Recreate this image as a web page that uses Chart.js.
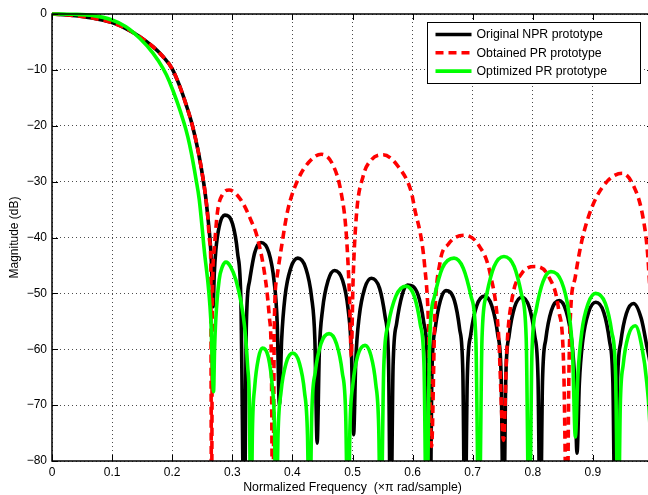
<!DOCTYPE html>
<html><head><meta charset="utf-8">
<script src="https://cdn.jsdelivr.net/npm/chart.js@4.4.0/dist/chart.umd.min.js"></script>
<style>
html,body{margin:0;padding:0;background:#fff;overflow:hidden;width:648px;height:495px;}
#wrap{width:653px;height:495px;}
</style></head><body>
<div id="wrap"><canvas id="c" width="653" height="495"></canvas></div>
<script>
const seriesNames = ['Original NPR prototype', 'Obtained PR prototype', 'Optimized PR prototype'];
const xTickValues = [0, 0.1, 0.2, 0.3, 0.4, 0.5, 0.6, 0.7, 0.8, 0.9, 1];
const xTickLabels = ['0', '0.1', '0.2', '0.3', '0.4', '0.5', '0.6', '0.7', '0.8', '0.9', '1'];
const yTickValues = [-80, -70, -60, -50, -40, -30, -20, -10, 0];
const yTickLabels = ['\u221280', '\u221270', '\u221260', '\u221250', '\u221240', '\u221230', '\u221220', '\u221210', '0'];
const xTitle = 'Normalized Frequency  (\u00d7\u03c0 rad/sample)';
const yTitle = 'Magnitude (dB)';

const blackFreq = [0,0.034,0.067,0.1,0.123,0.146,0.168,0.1845,0.2,0.2114,0.2237,0.2337,0.2437,0.2515,0.2555,0.2588,0.2643,0.2665,0.2681,0.2700,0.2726,0.2781,0.2876,0.3005,0.3088,0.3144,0.3199,
  0.3234,0.3287,0.3374,0.3477,0.3608,0.3695,0.3748,0.3783,
  0.3821,0.3877,0.3972,0.4090,0.4223,0.4318,0.4374,0.4412,
  0.4448,0.4503,0.4594,0.4701,0.4836,0.4927,0.4982,0.5018,
  0.5055,0.5111,0.5203,0.5314,0.5451,0.5543,0.5599,0.5636,
  0.5675,0.5734,0.5826,0.5915,0.6092,0.6189,0.6248,0.6287,
  0.6322,0.6375,0.6462,0.6555,0.6696,0.6783,0.6836,0.6871,
  0.6910,0.6967,0.7064,0.7195,0.7320,0.7417,0.7474,0.7513,
  0.7550,0.7605,0.7696,0.7818,0.7941,0.8032,0.8087,0.8124,
  0.8161,0.8216,0.8308,0.8440,0.8552,0.8644,0.8699,0.8736,
  0.8774,0.8831,0.8927,0.9048,0.9181,0.9276,0.9333,0.9371,
  0.9408,0.9464,0.9557,0.9676,0.9805,0.9898,0.9955,1.0];
const blackDb = [0,-0.24,-0.7,-1.55,-2.6,-4.05,-5.85,-7.6,-9.8,-12.6,-16.4,-20,-24.8,-29.6,-32.6,-35.8,-42.5,-48,-52.4,-46.5,-42.3,-38.1,-36.0,-37.6,-42.8,-51.8,-95,
  -55.5,-47.8,-42.7,-40.9,-42.7,-47.8,-55.5,-70,
  -58.3,-50.6,-45.5,-43.7,-45.5,-50.6,-58.3,-76.8,
  -60.5,-52.8,-47.7,-45.9,-47.7,-52.8,-60.5,-75.3,
  -61.9,-54.2,-49.1,-47.3,-49.1,-54.2,-61.9,-95,
  -63.1,-55.4,-50.3,-48.5,-50.3,-55.4,-63.1,-95,
  -64.1,-56.4,-51.3,-49.5,-51.3,-56.4,-64.1,-95,
  -65.1,-57.4,-52.3,-50.5,-52.3,-57.4,-65.1,-95,
  -65.3,-57.6,-52.5,-50.7,-52.5,-57.6,-65.3,-95,
  -65.9,-58.2,-53.1,-51.3,-53.1,-58.2,-65.9,-78.6,
  -66.2,-58.5,-53.4,-51.6,-53.4,-58.5,-66.2,-95,
  -66.4,-58.7,-53.6,-51.8,-54.5,-59.5,-63,-70];

const redFreq = [0,0.034,0.067,0.1,0.123,0.146,0.168,0.1845,0.2,0.2114,0.2237,0.2337,0.2437,0.2515,0.2555,0.2588,0.2625,0.2643,0.2654,
  0.2668,0.2698,0.2755,0.2838,0.2948,0.3144,0.3310,0.3422,0.3560,0.3616,0.3650,0.3673,
  0.3700,0.3745,0.3811,0.3923,0.4090,0.4284,0.4479,0.4674,0.4813,0.4896,0.4952,0.4980,
  0.5008,0.5063,0.5175,0.5314,0.5509,0.5760,0.5982,0.6037,0.6149,0.6200,0.6260,0.6316,
  0.6370,0.6454,0.6594,0.6871,0.7095,0.7289,0.7429,0.7513,
  0.7568,0.7651,0.7818,0.8040,0.8264,0.8431,0.8514,0.8569,
  0.8600,0.8625,0.8708,0.8820,0.8987,0.9209,0.9488,0.9683,0.9821,0.9905,0.9950,1.0];
const redDb = [0,-0.24,-0.7,-1.55,-2.6,-4.05,-5.85,-7.6,-9.8,-12.6,-16.4,-20,-24.8,-29.6,-32.6,-35.8,-40.8,-45,-95,
  -52,-42.2,-35.3,-32.3,-31.5,-33.3,-36.9,-40.2,-48.2,-54.2,-62,-95,
  -55,-47,-42.2,-35.1,-29.7,-26.4,-25.1,-27.0,-32.1,-39.3,-51.2,-61.3,
  -48.3,-36.3,-29.1,-26.1,-25.2,-27.3,-32,-35,-40.5,-45,-54.2,-77.4,
  -54.2,-44.6,-41.2,-39.6,-41.3,-46.4,-57.1,-76.3,
  -60,-51.2,-46.4,-45.2,-47.0,-53.0,-63.1,-95,
  -65,-54.2,-47.0,-40.4,-34.5,-30.3,-28.5,-30.9,-35.7,-42.2,-49.4,-58];

const greenFreq = [0,0.034,0.067,0.1,0.123,0.146,0.168,0.1845,0.195,0.2197,0.2260,0.2320,0.2395,0.2450,0.2531,0.2643,0.2688,
  0.2705,0.2726,0.2781,0.2835,0.2895,0.2970,0.3060,0.3144,0.3205,0.3255,0.3285,0.3310,
  0.3335,0.3373,0.3435,0.3500,0.3603,0.3665,0.3703,0.3728,
  0.3761,0.3811,0.3895,0.4006,0.4117,0.4201,0.4251,0.4284,
  0.4322,0.4380,0.4476,0.4610,0.4733,0.4829,0.4887,0.4925,
  0.4958,0.5007,0.5088,0.5210,0.5306,0.5387,0.5436,0.5469,
  0.5520,0.5595,0.5722,0.5890,0.6027,0.6129,0.6191,0.6232,
  0.6284,0.6363,0.6494,0.6690,0.6843,0.6974,0.7053,0.7105,
  0.7155,0.7230,0.7356,0.7520,0.7690,0.7815,0.7890,0.7940,
  0.7986,0.8055,0.8170,0.8300,0.8478,0.8593,0.8662,0.8708,
  0.8751,0.8815,0.8922,0.9045,0.9207,0.9314,0.9378,0.9421,
  0.9455,0.9505,0.9589,0.9705,0.9813,0.9897,0.9955,1.0];
const greenDb = [0,-0.05,-0.25,-1.07,-2.27,-4.35,-7.0,-9.7,-12.0,-19.5,-22.0,-25.0,-29.5,-33.2,-42.0,-54.8,-67.6,
  -60,-54.5,-47.6,-45.2,-44.4,-45.2,-47.6,-51.5,-56,-63,-70,-95,
  -74.4,-66.7,-61.6,-59.8,-61.6,-66.7,-74.4,-95,
  -75.3,-67.6,-62.5,-60.7,-62.5,-67.6,-75.3,-95,
  -71.8,-64.1,-59.0,-57.2,-59.0,-64.1,-71.8,-95,
  -73.9,-66.2,-61.1,-59.3,-61.1,-66.2,-73.9,-95,
  -63.3,-55.6,-50.5,-48.7,-50.5,-55.6,-63.3,-95,
  -58.3,-50.6,-45.5,-43.7,-45.5,-50.6,-58.3,-95,
  -58.0,-50.3,-45.2,-43.4,-45.2,-50.3,-58.0,-95,
  -60.7,-53.0,-47.9,-46.1,-47.9,-53.0,-60.7,-75.7,
  -64.6,-56.9,-51.8,-50.0,-51.8,-56.9,-64.6,-95,
  -70.4,-62.7,-57.6,-55.8,-59.5,-66,-75.3,-95];

const FONT = '"Liberation Sans", Arial, Helvetica, sans-serif';
Chart.defaults.font.family = FONT;
Chart.defaults.color = '#000';

function pts(f, d) { return f.map((v, i) => ({x: v, y: d[i]})); }

const frame = {
  id: 'frame',
  afterDatasetsDraw(chart) {
    const {ctx, chartArea: a, scales: {x, y}} = chart;
    ctx.save();
    ctx.strokeStyle = '#000';
    ctx.lineWidth = 1;
    ctx.beginPath();
    xTickValues.forEach(v => {
      const px = Math.round(x.getPixelForValue(v)) + 0.5;
      ctx.moveTo(px, a.bottom); ctx.lineTo(px, a.bottom - 6);
      ctx.moveTo(px, a.top); ctx.lineTo(px, a.top + 6);
    });
    yTickValues.forEach(v => {
      const py = Math.round(y.getPixelForValue(v)) + 0.5;
      ctx.moveTo(a.left, py); ctx.lineTo(a.left + 6, py);
      ctx.moveTo(a.right, py); ctx.lineTo(a.right - 6, py);
    });
    ctx.stroke();
    ctx.lineWidth = 1.5;
    ctx.strokeRect(a.left, a.top, a.right - a.left, a.bottom - a.top);
    // legend
    const bx = 427.5, by = 22.5, bw = 213, bh = 61;
    ctx.fillStyle = '#fff';
    ctx.fillRect(bx, by, bw, bh);
    ctx.lineWidth = 1;
    ctx.strokeRect(bx, by, bw, bh);
    ctx.font = '12.3px ' + FONT;
    ctx.textBaseline = 'middle';
    ctx.textAlign = 'left';
    chart.data.datasets.forEach((ds, i) => {
      const ry = by + 12 + i * 18.3;
      ctx.beginPath();
      ctx.strokeStyle = ds.borderColor;
      ctx.lineWidth = ds.borderWidth;
      ctx.setLineDash(ds.borderDash || []);
      ctx.moveTo(bx + 8, ry); ctx.lineTo(bx + 44, ry);
      ctx.stroke();
      ctx.setLineDash([]);
      ctx.fillStyle = '#000';
      ctx.fillText(ds.label, bx + 49, ry + 0.5);
    });
    ctx.restore();
  }
};

new Chart(document.getElementById('c'), {
  type: 'line',
  data: {
    datasets: [
      {label: seriesNames[0], data: pts(blackFreq, blackDb), borderColor: '#000000', borderWidth: 3.6, order: 3},
      {label: seriesNames[1], data: pts(redFreq, redDb), borderColor: '#ff0000', borderWidth: 3.6, borderDash: [8, 5], order: 2},
      {label: seriesNames[2], data: pts(greenFreq, greenDb), borderColor: '#00ff00', borderWidth: 3.6, order: 1}
    ]
  },
  options: {
    responsive: false,
    animation: false,
    devicePixelRatio: 1,
    parsing: false,
    layout: {padding: {top: 14, right: 0, left: 0, bottom: 0}},
    elements: {
      point: {radius: 0},
      line: {cubicInterpolationMode: 'monotone', fill: false}
    },
    datasets: {line: {clip: {left: 3, top: 3, right: 0, bottom: 0}}},
    plugins: {legend: {display: false}, tooltip: {enabled: false}},
    scales: {
      x: {
        type: 'linear', min: 0, max: 1,
        afterBuildTicks: s => { s.ticks = xTickValues.map(v => ({value: v})); },
        afterFit: s => { s.height = 34; s.paddingLeft = 0; s.paddingRight = 0; },
        ticks: {autoSkip: false, maxRotation: 0, padding: 4, font: {size: 12},
          callback: (v, i) => xTickLabels[i]},
        grid: {color: 'rgba(0,0,0,0.7)', lineWidth: 1, drawTicks: false},
        border: {display: false, dash: [1, 3]},
        title: {display: true, text: xTitle, font: {size: 12.3}, padding: {top: 0, bottom: 0.5}}
      },
      y: {
        type: 'linear', min: -80, max: 0,
        afterBuildTicks: s => { s.ticks = yTickValues.map(v => ({value: v})); },
        afterFit: s => { s.width = 52; s.paddingTop = 0; s.paddingBottom = 0; },
        ticks: {autoSkip: false, padding: 5, font: {size: 12},
          callback: (v, i) => yTickLabels[i]},
        grid: {color: 'rgba(0,0,0,0.7)', lineWidth: 1, drawTicks: false},
        border: {display: false, dash: [1, 3]},
        title: {display: true, text: yTitle, font: {size: 12}, padding: {top: 7, bottom: 0}}
      }
    }
  },
  plugins: [frame]
});
</script>
</body></html>
